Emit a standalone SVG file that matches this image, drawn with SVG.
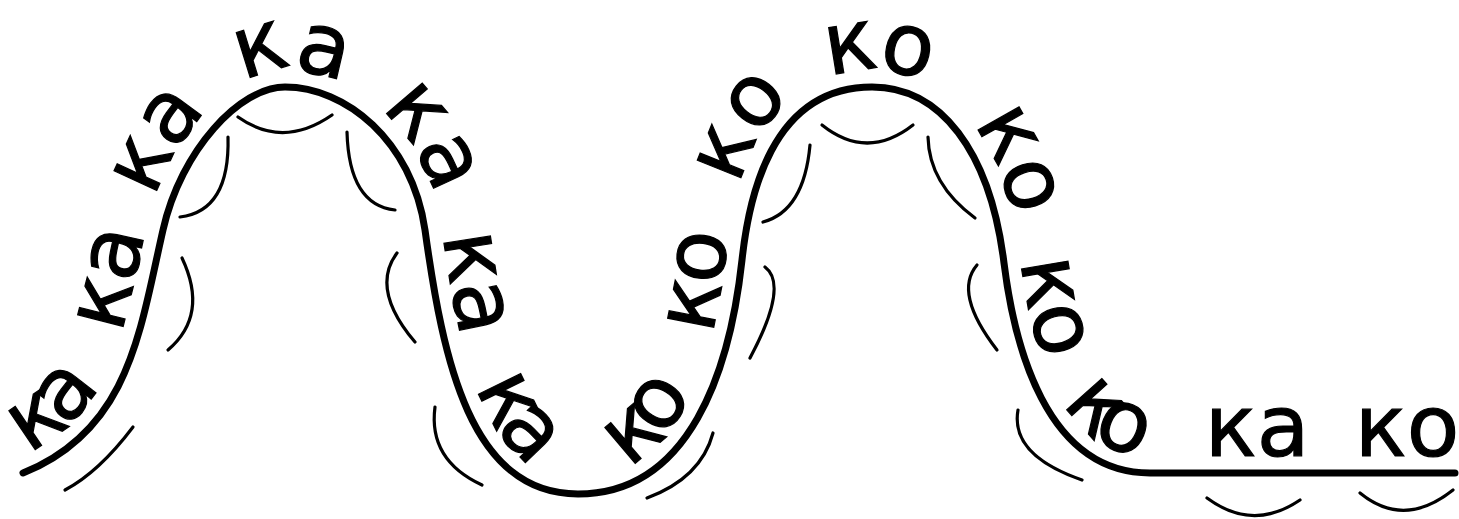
<svg xmlns="http://www.w3.org/2000/svg" width="1459" height="519" viewBox="0 0 1459 519">
<style>
.wave{fill:none;stroke:#000;stroke-width:7;stroke-linecap:round;stroke-linejoin:round}
.arc{fill:none;stroke:#000;stroke-width:3.2;stroke-linecap:round}
.syl{font-family:"DejaVu Sans",Verdana,sans-serif;font-size:86px;fill:#000;stroke:#000;stroke-width:1.2;text-anchor:middle}
.tight{letter-spacing:-10px}
.semi{letter-spacing:-5px}
</style>
<defs>
<path id="wavePath" d="M23,473 C130,430 140,330 163,230 C181,150 240,87 285,87 C345,87 412,140 425,230 C443,360 470,494 578,494 C690,494 730,370 742,260 C748.5,200 770,87 872,87 C940,87 990,150 1004,263 C1014,343 1045,473 1150,473 L1455,473"/>
</defs>
<rect width="1459" height="519" fill="#fff"/>
<g id="wave">
<use href="#wavePath" class="wave"/>
</g>
<g id="arcs">
<path class="arc" d="M133,427 Q99,472 65,490"/>
<path class="arc" d="M182,258 Q209,315 168,350"/>
<path class="arc" d="M228,137 Q230,211 180,217"/>
<path class="arc" d="M238,117 Q283,149 332,115"/>
<path class="arc" d="M347,132 Q349,205 395,210"/>
<path class="arc" d="M397,253 Q370,289 415,342"/>
<path class="arc" d="M435,407 Q428,460 482,485"/>
<path class="arc" d="M713,433 Q701,478 647,498"/>
<path class="arc" d="M765,267 Q789,285 750,358"/>
<path class="arc" d="M810,145 Q804,211 763,222"/>
<path class="arc" d="M822,125 Q867,161 913,125"/>
<path class="arc" d="M928,137 Q929,184 975,218"/>
<path class="arc" d="M977,265 Q953,293 997,350"/>
<path class="arc" d="M1018,410 Q1010,455 1082,480"/>
<path class="arc" d="M1207,498 Q1253,532 1300,500"/>
<path class="arc" d="M1360,493 Q1404,529 1453,490"/>
</g>
<g id="syllables">
<text id="s1" class="syl" dy="-17"><textPath href="#wavePath" startOffset="68">ка</textPath></text>
<text id="s2" class="syl" dy="-17"><textPath href="#wavePath" startOffset="236">ка</textPath></text>
<text id="s3" class="syl semi" dy="-17"><textPath href="#wavePath" startOffset="368">ка</textPath></text>
<text id="s4" class="syl tight" dy="-17"><textPath href="#wavePath" startOffset="498">ка</textPath></text>
<text id="s5" class="syl semi" dy="-17"><textPath href="#wavePath" startOffset="632">ка</textPath></text>
<text id="s6" class="syl" dy="-17"><textPath href="#wavePath" startOffset="772">ка</textPath></text>
<text id="s7" class="syl" dy="-17"><textPath href="#wavePath" startOffset="932">ка</textPath></text>
<text id="s8" class="syl" dy="-17"><textPath href="#wavePath" startOffset="1160">ко</textPath></text>
<text id="s9" class="syl" dy="-17"><textPath href="#wavePath" startOffset="1332">ко</textPath></text>
<text id="s10" class="syl semi" dy="-17"><textPath href="#wavePath" startOffset="1476">ко</textPath></text>
<text id="s11" class="syl tight" dy="-17"><textPath href="#wavePath" startOffset="1600">ко</textPath></text>
<text id="s12" class="syl semi" dy="-17"><textPath href="#wavePath" startOffset="1747">ко</textPath></text>
<text id="s13" class="syl" dy="-17"><textPath href="#wavePath" startOffset="1893">ко</textPath></text>
<text id="s14" class="syl" dy="-17"><textPath href="#wavePath" startOffset="2051">ко</textPath></text>
<text id="s15" class="syl" dy="-17"><textPath href="#wavePath" startOffset="2227">ка</textPath></text>
<text id="s16" class="syl" dy="-17"><textPath href="#wavePath" startOffset="2377">ко</textPath></text>
</g>
</svg>
